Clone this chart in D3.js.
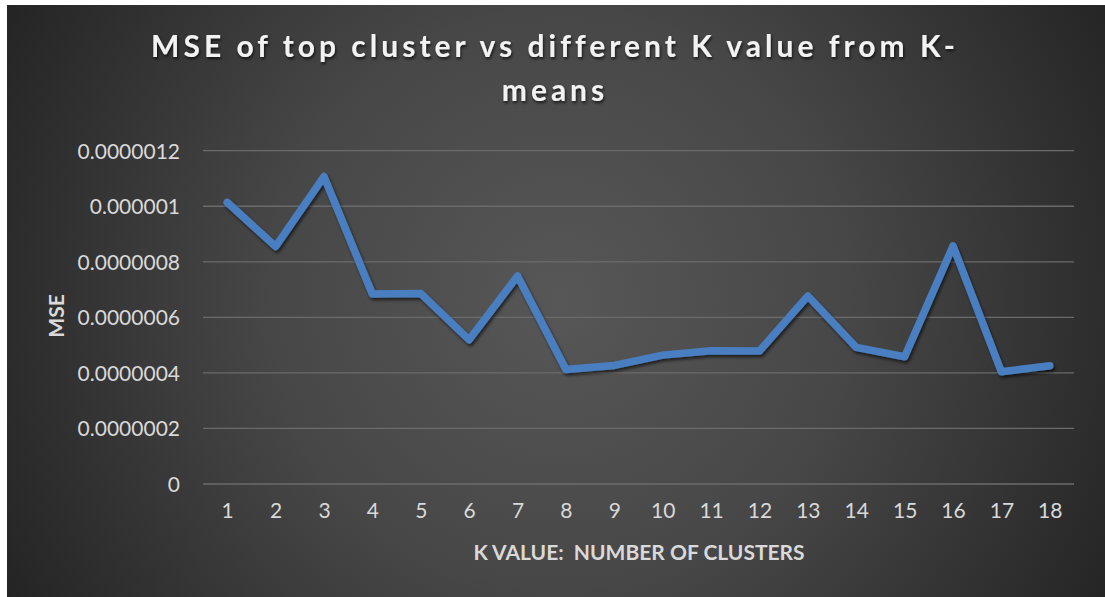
<!DOCTYPE html>
<html>
<head>
<meta charset="utf-8">
<script src="https://cdn.jsdelivr.net/npm/d3@7"></script>
<style>
  body { margin: 0; background: #ffffff; }
  text { font-family: Lato, "Open Sans", sans-serif; white-space: pre; }
</style>
</head>
<body>
<div class="chart"></div>
<script>
var svgWidth = 1105;
var svgHeight = 597;

// chart data
var kValues = ["1", "2", "3", "4", "5", "6", "7", "8", "9", "10", "11", "12", "13", "14", "15", "16", "17", "18"];
var mseValues = [0.000001014, 0.000000855, 0.000001107, 0.000000684, 0.000000686, 0.000000519,
  0.000000749, 0.000000412, 0.000000427, 0.000000464, 0.000000480, 0.000000479,
  0.000000677, 0.000000492, 0.000000458, 0.000000857, 0.000000404, 0.000000426];
var yTicks = [0, 0.0000002, 0.0000004, 0.0000006, 0.0000008, 0.000001, 0.0000012];
var yTickLabels = ["0", "0.0000002", "0.0000004", "0.0000006", "0.0000008", "0.000001", "0.0000012"];
var titleLines = ["MSE of top cluster vs different K value from K-", "means"];

var plot = { left: 203, right: 1074, top: 150.7, bottom: 484 };

var svg = d3.select(".chart")
  .append("svg")
  .attr("width", svgWidth)
  .attr("height", svgHeight);

var defs = svg.append("defs");

var grad = defs.append("radialGradient")
  .attr("id", "bg")
  .attr("gradientUnits", "userSpaceOnUse")
  .attr("cx", 560)
  .attr("cy", 300)
  .attr("r", 640);
grad.append("stop").attr("offset", "0%").attr("stop-color", "#575757");
grad.append("stop").attr("offset", "45%").attr("stop-color", "#474747");
grad.append("stop").attr("offset", "100%").attr("stop-color", "#232323");

var shadow = defs.append("filter")
  .attr("id", "shadow")
  .attr("x", "-10%").attr("y", "-10%")
  .attr("width", "120%").attr("height", "130%");
shadow.append("feDropShadow")
  .attr("dx", 1.5)
  .attr("dy", 2.5)
  .attr("stdDeviation", 1.8)
  .attr("flood-color", "#000")
  .attr("flood-opacity", 0.6);

var textShadow = defs.append("filter")
  .attr("id", "tshadow")
  .attr("x", "-5%").attr("y", "-20%")
  .attr("width", "110%").attr("height", "150%");
textShadow.append("feDropShadow")
  .attr("dx", 1)
  .attr("dy", 2)
  .attr("stdDeviation", 1.5)
  .attr("flood-color", "#000")
  .attr("flood-opacity", 0.7);

// background
svg.append("rect")
  .attr("x", 7)
  .attr("y", 5)
  .attr("width", svgWidth - 7)
  .attr("height", svgHeight - 5)
  .attr("fill", "url(#bg)");

// scales
var xScale = d3.scalePoint()
  .domain(kValues)
  .range([plot.left, plot.right])
  .padding(0.5);

var yScale = d3.scaleLinear()
  .domain([0, 0.0000012])
  .range([plot.bottom, plot.top]);

// gridlines
svg.append("g")
  .selectAll("line")
  .data(yTicks)
  .enter()
  .append("line")
  .attr("x1", plot.left)
  .attr("x2", plot.right)
  .attr("y1", d => yScale(d))
  .attr("y2", d => yScale(d))
  .attr("stroke", "#6b6b6b")
  .attr("stroke-width", 1.3);

// y axis
var leftAxis = d3.axisLeft(yScale)
  .tickValues(yTicks)
  .tickFormat((d, i) => yTickLabels[i])
  .tickSize(0)
  .tickPadding(23);

var yAxis = svg.append("g")
  .attr("transform", `translate(${plot.left}, 0)`)
  .call(leftAxis);
yAxis.select(".domain").remove();
yAxis.selectAll("text")
  .attr("fill", "#d9d9d9")
  .attr("font-size", "21px")
  .attr("dy", "0.35em");

// x axis
var bottomAxis = d3.axisBottom(xScale)
  .tickSize(0)
  .tickPadding(19);

var xAxis = svg.append("g")
  .attr("transform", `translate(0, ${plot.bottom})`)
  .call(bottomAxis);
xAxis.select(".domain").remove();
xAxis.selectAll("text")
  .attr("fill", "#d9d9d9")
  .attr("font-size", "21px");

// line
var line = d3.line()
  .x((d, i) => xScale(kValues[i]))
  .y(d => yScale(d));

svg.append("path")
  .datum(mseValues)
  .attr("d", line)
  .attr("fill", "none")
  .attr("stroke", "#4a7fc1")
  .attr("stroke-width", 7.5)
  .attr("stroke-linejoin", "round")
  .attr("stroke-linecap", "round")
  .attr("filter", "url(#shadow)");

// title
svg.append("g")
  .attr("filter", "url(#tshadow)")
  .selectAll("text")
  .data(titleLines)
  .enter()
  .append("text")
  .attr("x", 555)
  .attr("y", (d, i) => 57 + i * 44)
  .attr("text-anchor", "middle")
  .attr("font-size", "30px")
  .attr("font-weight", "bold")
  .attr("letter-spacing", "4px")
  .attr("fill", "#f2f2f2")
  .text(d => d);

// axis titles
svg.append("text")
  .attr("x", 639)
  .attr("y", 560)
  .attr("text-anchor", "middle")
  .attr("font-size", "21px")
  .attr("font-weight", "bold")
  .attr("fill", "#d9d9d9")
  .text("K VALUE:  NUMBER OF CLUSTERS");

svg.append("text")
  .attr("transform", "translate(64, 316) rotate(-90)")
  .attr("text-anchor", "middle")
  .attr("font-size", "21px")
  .attr("font-weight", "bold")
  .attr("fill", "#d9d9d9")
  .text("MSE");
</script>
</body>
</html>
